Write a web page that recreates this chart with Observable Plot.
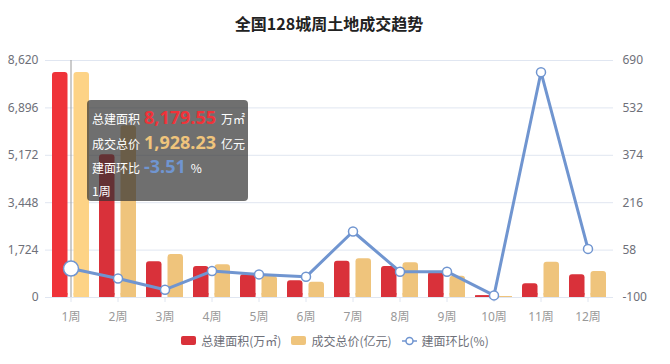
<!DOCTYPE html>
<html>
<head>
<meta charset="utf-8">
<script src="https://cdn.jsdelivr.net/npm/d3@7"></script>
<script src="https://cdn.jsdelivr.net/npm/@observablehq/plot@0.6"></script>
<style>
  body { margin: 0; background: #fff; font-family: "Noto Sans", "Noto Sans CJK SC", sans-serif; }
  #wrap { position: relative; width: 670px; height: 364px; overflow: hidden; }
  #title { position: absolute; left: 0; top: 11px; width: 658px; text-align: center; font-size: 16px; font-weight: bold; color: #222; font-family: "Noto Sans CJK SC", sans-serif; line-height: 24px; }
  #chart { position: absolute; left: 0; top: 0; }
  #tip { position: absolute; left: 87px; top: 100px; width: 156px; height: 89px; padding: 6px 0 6px 5px; border-radius: 4px; background: rgba(50,50,50,0.7); color: #fff; font-size: 12px; line-height: 22.5px; font-family: "Noto Sans CJK SC", sans-serif; white-space: nowrap; }
  #tip .v { font-family: "Noto Sans", sans-serif; font-weight: bold; font-size: 18px; margin: 0 5px 0 4px; }
  #legend { position: absolute; left: 0; top: 332px; width: 670px; display: flex; justify-content: center; align-items: center; font-size: 12px; color: #6e7079; font-family: "Noto Sans CJK SC", sans-serif; }
  .item { display: flex; align-items: center; margin: 0 5px; }
  .sw { width: 15px; height: 9px; border-radius: 2px; margin-right: 5px; }
</style>
</head>
<body>
<div id="wrap">
  <div id="chart"></div>
  <div id="title"></div>
  <div id="tip"></div>
  <div id="legend"></div>
</div>
<script>
const titleText = "全国128城周土地成交趋势";
const weeks = ["1周","2周","3周","4周","5周","6周","7周","8周","9周","10周","11周","12周"];
const area  = [8179.55, 5190, 1298, 1128, 825, 608, 1320, 1128, 920, 62, 498, 825];
const price = [1928.23, 1472, 369, 280, 180, 131, 332, 297, 183, 8, 303, 223];
const ratio = [-3.51, -36.7, -74, -12, -23, -31, 120, -14, -14, -93, 651, 62];
const leftTicks  = [0, 1724, 3448, 5172, 6896, 8620];
const rightTicks = [-100, 58, 216, 374, 532, 690];
const priceMax = 2032;
const seriesNames = ["总建面积(万㎡)", "成交总价(亿元)", "建面环比(%)"];

const C = { red: "#d9313a", redHi: "#ef3339", yel: "#efc47c", yelHi: "#fdd386", blue: "#7095d0" };

const L = leftTicks[leftTicks.length - 1];
const r0 = rightTicks[0], r1 = rightTicks[rightTicks.length - 1];
const fromRight = v => (v - r0) / (r1 - r0) * L;
const toRight = y => y / L * (r1 - r0) + r0;
const fromPrice = v => v / priceMax * L;

const data = weeks.map((w, i) => ({ week: w, area: area[i], price: price[i], ratio: ratio[i], hi: i === 0 }));
const sq = L * 4 / 237;

const plot = Plot.plot({
  width: 670, height: 364,
  marginLeft: 45, marginRight: 57, marginTop: 60, marginBottom: 67,
  x: { type: "band", domain: weeks, padding: 0, label: null },
  y: { domain: [0, L], label: null },
  style: { fontFamily: "'Noto Sans', 'Noto Sans CJK SC', sans-serif", fontSize: "12px", background: "transparent", overflow: "visible" },
  marks: [
    Plot.gridY(leftTicks, { stroke: "#e0e6f1", strokeOpacity: 1 }),
    Plot.ruleY([0], { stroke: "#e0e6f1" }),
    Plot.axisY(leftTicks, { anchor: "left", tickSize: 0, tickPadding: 7, tickFormat: d3.format(","), fill: "#6e7079", label: null }),
    Plot.axisY(rightTicks.map(fromRight), { anchor: "right", tickSize: 0, tickPadding: 9, tickFormat: d => String(Math.round(toRight(d))), fill: "#6e7079", label: null }),
    Plot.axisX({ tickSize: 5, tickPadding: 10, stroke: "#e0e6f1", strokeOpacity: 1, fill: "#999", label: null }),
    Plot.ruleX([weeks[0]], { y1: 0, y2: L, stroke: "#999", strokeWidth: 1 }),
    Plot.barY(data, { x: "week", y: "area", fill: d => d.hi ? C.redHi : C.red, insetLeft: 5, insetRight: 26.5, rx: 3 }),
    Plot.barY(data, { x: "week", y1: 0, y2: d => Math.min(d.area, sq), fill: d => d.hi ? C.redHi : C.red, insetLeft: 5, insetRight: 26.5 }),
    Plot.barY(data, { x: "week", y: d => fromPrice(d.price), fill: d => d.hi ? C.yelHi : C.yel, insetLeft: 26.5, insetRight: 5, rx: 3 }),
    Plot.barY(data, { x: "week", y1: 0, y2: d => Math.min(fromPrice(d.price), sq), fill: d => d.hi ? C.yelHi : C.yel, insetLeft: 26.5, insetRight: 5 }),
    Plot.line(data, { x: "week", y: d => fromRight(d.ratio), stroke: C.blue, strokeWidth: 3 }),
    Plot.dot(data.filter(d => !d.hi), { x: "week", y: d => fromRight(d.ratio), r: 4.5, fill: "white", stroke: C.blue, strokeWidth: 1.5 }),
    Plot.dot(data.filter(d => d.hi), { x: "week", y: d => fromRight(d.ratio), r: 7.5, fill: "white", stroke: C.blue, strokeWidth: 1.5 })
  ]
});
document.getElementById("chart").append(plot);
document.getElementById("title").textContent = titleText;

const fmt = d3.format(",.2f");
document.getElementById("tip").innerHTML =
  `<div>总建面积<span class="v" style="color:${C.redHi}">${fmt(area[0])}</span>万㎡</div>` +
  `<div>成交总价<span class="v" style="color:${C.yel}">${fmt(price[0])}</span>亿元</div>` +
  `<div>建面环比<span class="v" style="color:${C.blue}">${ratio[0].toFixed(2)}</span>%</div>` +
  `<div>${weeks[0]}</div>`;

document.getElementById("legend").innerHTML =
  `<div class="item"><div class="sw" style="background:${C.red}"></div>${seriesNames[0]}</div>` +
  `<div class="item"><div class="sw" style="background:${C.yel}"></div>${seriesNames[1]}</div>` +
  `<div class="item"><svg width="15" height="10" style="margin-right:5px"><line x1="0" y1="5" x2="15" y2="5" stroke="${C.blue}" stroke-width="1.5"/><circle cx="7.5" cy="5" r="3.5" fill="white" stroke="${C.blue}" stroke-width="1.5"/></svg>${seriesNames[2]}</div>`;
</script>
</body>
</html>
